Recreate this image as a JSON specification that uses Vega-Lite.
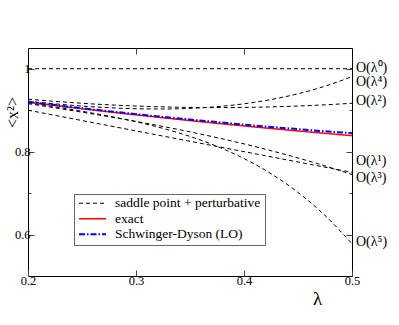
{
  "$schema": "https://vega.github.io/schema/vega-lite/v6.json",
  "width": 324,
  "height": 228,
  "autosize": {"type": "none"},
  "padding": {"left": 28, "top": 48, "right": 47, "bottom": 49},
  "background": "white",
  "config": {
    "font": "Liberation Serif",
    "view": {"stroke": "black", "strokeWidth": 1},
    "axis": {"grid": false, "domain": false, "tickColor": "#444", "labelColor": "black", "labelFont": "Liberation Serif", "labelFontSize": 12.5, "titleFont": "Liberation Serif", "titleColor": "black", "titleFontWeight": "normal", "labelFlush": false, "labelOverlap": false},
    "text": {"font": "Liberation Serif"}
  },
  "datasets": {
    "curves": [
      {"lam": 0.2, "val": 1, "c": "o0", "k": "saddle point + perturbative"},
      {"lam": 0.225, "val": 1, "c": "o0", "k": "saddle point + perturbative"},
      {"lam": 0.25, "val": 1, "c": "o0", "k": "saddle point + perturbative"},
      {"lam": 0.275, "val": 1, "c": "o0", "k": "saddle point + perturbative"},
      {"lam": 0.3, "val": 1, "c": "o0", "k": "saddle point + perturbative"},
      {"lam": 0.325, "val": 1, "c": "o0", "k": "saddle point + perturbative"},
      {"lam": 0.35, "val": 1, "c": "o0", "k": "saddle point + perturbative"},
      {"lam": 0.375, "val": 1, "c": "o0", "k": "saddle point + perturbative"},
      {"lam": 0.4, "val": 1, "c": "o0", "k": "saddle point + perturbative"},
      {"lam": 0.425, "val": 1, "c": "o0", "k": "saddle point + perturbative"},
      {"lam": 0.45, "val": 1, "c": "o0", "k": "saddle point + perturbative"},
      {"lam": 0.475, "val": 1, "c": "o0", "k": "saddle point + perturbative"},
      {"lam": 0.5, "val": 1, "c": "o0", "k": "saddle point + perturbative"},
      {"lam": 0.2, "val": 0.9, "c": "o1", "k": "saddle point + perturbative"},
      {"lam": 0.225, "val": 0.8875, "c": "o1", "k": "saddle point + perturbative"},
      {"lam": 0.25, "val": 0.875, "c": "o1", "k": "saddle point + perturbative"},
      {"lam": 0.275, "val": 0.8625, "c": "o1", "k": "saddle point + perturbative"},
      {"lam": 0.3, "val": 0.85, "c": "o1", "k": "saddle point + perturbative"},
      {"lam": 0.325, "val": 0.8375, "c": "o1", "k": "saddle point + perturbative"},
      {"lam": 0.35, "val": 0.825, "c": "o1", "k": "saddle point + perturbative"},
      {"lam": 0.375, "val": 0.8125, "c": "o1", "k": "saddle point + perturbative"},
      {"lam": 0.4, "val": 0.8, "c": "o1", "k": "saddle point + perturbative"},
      {"lam": 0.425, "val": 0.7875, "c": "o1", "k": "saddle point + perturbative"},
      {"lam": 0.45, "val": 0.775, "c": "o1", "k": "saddle point + perturbative"},
      {"lam": 0.475, "val": 0.7625, "c": "o1", "k": "saddle point + perturbative"},
      {"lam": 0.5, "val": 0.75, "c": "o1", "k": "saddle point + perturbative"},
      {"lam": 0.2, "val": 0.92667, "c": "o2", "k": "saddle point + perturbative"},
      {"lam": 0.225, "val": 0.92125, "c": "o2", "k": "saddle point + perturbative"},
      {"lam": 0.25, "val": 0.91667, "c": "o2", "k": "saddle point + perturbative"},
      {"lam": 0.275, "val": 0.91292, "c": "o2", "k": "saddle point + perturbative"},
      {"lam": 0.3, "val": 0.91, "c": "o2", "k": "saddle point + perturbative"},
      {"lam": 0.325, "val": 0.90792, "c": "o2", "k": "saddle point + perturbative"},
      {"lam": 0.35, "val": 0.90667, "c": "o2", "k": "saddle point + perturbative"},
      {"lam": 0.375, "val": 0.90625, "c": "o2", "k": "saddle point + perturbative"},
      {"lam": 0.4, "val": 0.90667, "c": "o2", "k": "saddle point + perturbative"},
      {"lam": 0.425, "val": 0.90792, "c": "o2", "k": "saddle point + perturbative"},
      {"lam": 0.45, "val": 0.91, "c": "o2", "k": "saddle point + perturbative"},
      {"lam": 0.475, "val": 0.91292, "c": "o2", "k": "saddle point + perturbative"},
      {"lam": 0.5, "val": 0.91667, "c": "o2", "k": "saddle point + perturbative"},
      {"lam": 0.2, "val": 0.91567, "c": "o3", "k": "saddle point + perturbative"},
      {"lam": 0.225, "val": 0.90559, "c": "o3", "k": "saddle point + perturbative"},
      {"lam": 0.25, "val": 0.89518, "c": "o3", "k": "saddle point + perturbative"},
      {"lam": 0.275, "val": 0.88432, "c": "o3", "k": "saddle point + perturbative"},
      {"lam": 0.3, "val": 0.87288, "c": "o3", "k": "saddle point + perturbative"},
      {"lam": 0.325, "val": 0.86072, "c": "o3", "k": "saddle point + perturbative"},
      {"lam": 0.35, "val": 0.84771, "c": "o3", "k": "saddle point + perturbative"},
      {"lam": 0.375, "val": 0.83374, "c": "o3", "k": "saddle point + perturbative"},
      {"lam": 0.4, "val": 0.81867, "c": "o3", "k": "saddle point + perturbative"},
      {"lam": 0.425, "val": 0.80236, "c": "o3", "k": "saddle point + perturbative"},
      {"lam": 0.45, "val": 0.7847, "c": "o3", "k": "saddle point + perturbative"},
      {"lam": 0.475, "val": 0.76556, "c": "o3", "k": "saddle point + perturbative"},
      {"lam": 0.5, "val": 0.74479, "c": "o3", "k": "saddle point + perturbative"},
      {"lam": 0.2, "val": 0.92171, "c": "o4", "k": "saddle point + perturbative"},
      {"lam": 0.225, "val": 0.91527, "c": "o4", "k": "saddle point + perturbative"},
      {"lam": 0.25, "val": 0.90994, "c": "o4", "k": "saddle point + perturbative"},
      {"lam": 0.275, "val": 0.90593, "c": "o4", "k": "saddle point + perturbative"},
      {"lam": 0.3, "val": 0.90348, "c": "o4", "k": "saddle point + perturbative"},
      {"lam": 0.325, "val": 0.90286, "c": "o4", "k": "saddle point + perturbative"},
      {"lam": 0.35, "val": 0.9044, "c": "o4", "k": "saddle point + perturbative"},
      {"lam": 0.375, "val": 0.90845, "c": "o4", "k": "saddle point + perturbative"},
      {"lam": 0.4, "val": 0.91538, "c": "o4", "k": "saddle point + perturbative"},
      {"lam": 0.425, "val": 0.92562, "c": "o4", "k": "saddle point + perturbative"},
      {"lam": 0.45, "val": 0.93962, "c": "o4", "k": "saddle point + perturbative"},
      {"lam": 0.475, "val": 0.95787, "c": "o4", "k": "saddle point + perturbative"},
      {"lam": 0.5, "val": 0.9809, "c": "o4", "k": "saddle point + perturbative"},
      {"lam": 0.2, "val": 0.91758, "c": "o5", "k": "saddle point + perturbative"},
      {"lam": 0.225, "val": 0.90783, "c": "o5", "k": "saddle point + perturbative"},
      {"lam": 0.25, "val": 0.89735, "c": "o5", "k": "saddle point + perturbative"},
      {"lam": 0.275, "val": 0.88565, "c": "o5", "k": "saddle point + perturbative"},
      {"lam": 0.3, "val": 0.87214, "c": "o5", "k": "saddle point + perturbative"},
      {"lam": 0.325, "val": 0.8561, "c": "o5", "k": "saddle point + perturbative"},
      {"lam": 0.35, "val": 0.83667, "c": "o5", "k": "saddle point + perturbative"},
      {"lam": 0.375, "val": 0.81282, "c": "o5", "k": "saddle point + perturbative"},
      {"lam": 0.4, "val": 0.78332, "c": "o5", "k": "saddle point + perturbative"},
      {"lam": 0.425, "val": 0.74681, "c": "o5", "k": "saddle point + perturbative"},
      {"lam": 0.45, "val": 0.70165, "c": "o5", "k": "saddle point + perturbative"},
      {"lam": 0.475, "val": 0.64604, "c": "o5", "k": "saddle point + perturbative"},
      {"lam": 0.5, "val": 0.57791, "c": "o5", "k": "saddle point + perturbative"},
      {"lam": 0.2, "val": 0.9193, "c": "ex", "k": "exact"},
      {"lam": 0.25, "val": 0.9035, "c": "ex", "k": "exact"},
      {"lam": 0.3, "val": 0.8887, "c": "ex", "k": "exact"},
      {"lam": 0.35, "val": 0.8749, "c": "ex", "k": "exact"},
      {"lam": 0.4, "val": 0.862, "c": "ex", "k": "exact"},
      {"lam": 0.45, "val": 0.8499, "c": "ex", "k": "exact"},
      {"lam": 0.5, "val": 0.8386, "c": "ex", "k": "exact"},
      {"lam": 0.2, "val": 0.9201, "c": "sd", "k": "Schwinger-Dyson (LO)"},
      {"lam": 0.25, "val": 0.9047, "c": "sd", "k": "Schwinger-Dyson (LO)"},
      {"lam": 0.3, "val": 0.8905, "c": "sd", "k": "Schwinger-Dyson (LO)"},
      {"lam": 0.35, "val": 0.8774, "c": "sd", "k": "Schwinger-Dyson (LO)"},
      {"lam": 0.4, "val": 0.8653, "c": "sd", "k": "Schwinger-Dyson (LO)"},
      {"lam": 0.45, "val": 0.8542, "c": "sd", "k": "Schwinger-Dyson (LO)"},
      {"lam": 0.5, "val": 0.8444, "c": "sd", "k": "Schwinger-Dyson (LO)"}
    ],
    "labels": [
      {"lam": 0.5, "val": 1.0024, "t": "O(λ⁰)"},
      {"lam": 0.5, "val": 0.9685, "t": "O(λ⁴)"},
      {"lam": 0.5, "val": 0.9226, "t": "O(λ²)"},
      {"lam": 0.5, "val": 0.7775, "t": "O(λ¹)"},
      {"lam": 0.5, "val": 0.7376, "t": "O(λ³)"},
      {"lam": 0.5, "val": 0.5829, "t": "O(λ⁵)"}
    ]
  },
  "layer": [
    {
      "data": {"name": "curves"},
      "mark": {"type": "line", "interpolate": "monotone"},
      "encoding": {
        "x": {"field": "lam", "type": "quantitative", "scale": {"domain": [0.2, 0.5], "nice": false, "zero": false},
          "axis": {"orient": "bottom", "values": [0.2, 0.3, 0.4, 0.5], "format": "~g", "tickSize": -6, "labelPadding": 4, "title": "λ", "titleFontSize": 19, "titleX": 289, "titleY": 22, "titleBaseline": "middle", "titleAlign": "center", "titleAnchor": null}},
        "y": {"field": "val", "type": "quantitative", "scale": {"domain": [0.5, 1.05], "nice": false, "zero": false},
          "axis": {"orient": "left", "values": [0.6, 0.7, 0.8, 0.9, 1], "format": "~g", "labelExpr": "round(datum.value*10)%2==1 ? '' : datum.label", "tickSize": {"condition": {"test": "round(datum.value*10)%2==1", "value": -3}, "value": -6}, "labelPadding": 4, "title": "<x²>", "titleFontSize": 16, "titleX": -11, "titleY": 64, "titleBaseline": "alphabetic", "titleAngle": -90}},
        "detail": {"field": "c", "type": "nominal"},
        "color": {"field": "k", "type": "nominal", "scale": {"domain": ["saddle point + perturbative", "exact", "Schwinger-Dyson (LO)"], "range": ["black", "#ff0000", "#0000ff"]},
          "legend": {"orient": "none", "legendX": 46, "legendY": 146, "title": null, "symbolType": "stroke", "symbolSize": 729, "clipHeight": 10.5, "rowPadding": 1.5, "padding": 4, "strokeColor": "#666", "fillColor": "white", "labelFontSize": 13.5, "labelFont": "Liberation Serif", "labelColor": "black", "labelOffset": 8, "labelLimit": 0}},
        "strokeDash": {"field": "k", "type": "nominal", "scale": {"domain": ["saddle point + perturbative", "exact", "Schwinger-Dyson (LO)"], "range": [[4, 3], [1, 0], [6, 2, 1.5, 2]]},
          "legend": {"orient": "none", "legendX": 46, "legendY": 146, "title": null, "symbolType": "stroke", "symbolSize": 729, "clipHeight": 10.5, "rowPadding": 1.5, "padding": 4, "strokeColor": "#666", "fillColor": "white", "labelFontSize": 13.5, "labelFont": "Liberation Serif", "labelColor": "black", "labelOffset": 8, "labelLimit": 0}},
        "strokeWidth": {"field": "k", "type": "nominal", "scale": {"domain": ["saddle point + perturbative", "exact", "Schwinger-Dyson (LO)"], "range": [1, 2, 1.5]},
          "legend": {"orient": "none", "legendX": 46, "legendY": 146, "title": null, "symbolType": "stroke", "symbolSize": 729, "clipHeight": 10.5, "rowPadding": 1.5, "padding": 4, "strokeColor": "#666", "fillColor": "white", "labelFontSize": 13.5, "labelFont": "Liberation Serif", "labelColor": "black", "labelOffset": 8, "labelLimit": 0}}
      }
    },
    {
      "data": {"name": "labels"},
      "mark": {"type": "text", "align": "left", "baseline": "middle", "dx": 4, "fontSize": 14, "font": "Liberation Serif", "color": "black"},
      "encoding": {
        "x": {"field": "lam", "type": "quantitative", "scale": {"domain": [0.2, 0.5], "nice": false, "zero": false},
          "axis": {"orient": "top", "values": [0.3, 0.4], "labels": false, "tickSize": -6, "title": null}},
        "y": {"field": "val", "type": "quantitative", "scale": {"domain": [0.5, 1.05], "nice": false, "zero": false},
          "axis": {"orient": "right", "values": [0.6, 0.7, 0.8, 0.9, 1], "labels": false, "tickSize": {"condition": {"test": "round(datum.value*10)%2==1", "value": -3}, "value": -6}, "title": null}},
        "text": {"field": "t", "type": "nominal"}
      }
    }
  ],
  "resolve": {"axis": {"x": "independent", "y": "independent"}}
}
